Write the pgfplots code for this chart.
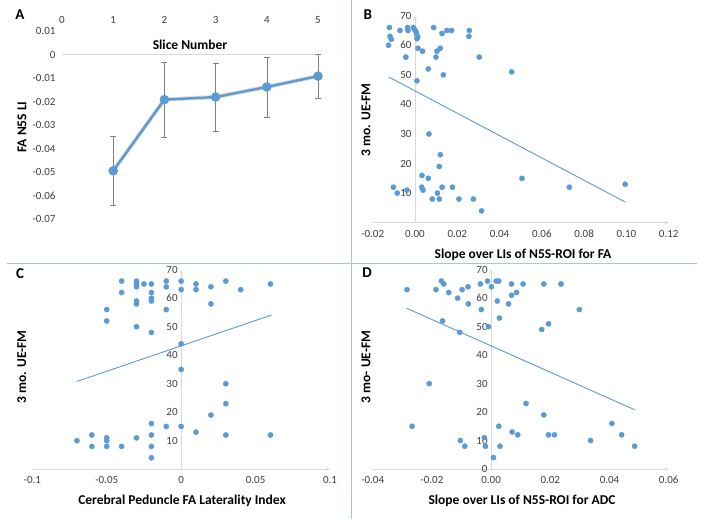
\documentclass[border=0pt]{standalone}
\usepackage{pgfplots}
\pgfplotsset{compat=1.18}
\usepackage{fontspec}
\setmainfont{Carlito}
\definecolor{ser}{HTML}{5B9BD5}
\definecolor{axg}{HTML}{D9D9D9}
\definecolor{sepc}{HTML}{A3C7E8}
\definecolor{tk}{HTML}{404040}
\definecolor{glow}{HTML}{E2DAD2}
\pgfplotsset{
  common/.style={scale only axis, anchor=south west, clip=false,
    /pgf/number format/assume math mode=true,
    tick label style={font=\fontsize{11}{13}\selectfont, text=tk},
    major tick length=0pt,
    axis line style={axg, line width=0.8pt, -},
    hide obscured x ticks=false, hide obscured y ticks=false,
    scaled x ticks=false, scaled y ticks=false,
  },
  scatpanel/.style={common, axis x line=bottom, axis y line=middle,
    ymin=0, ymax=70,
    xticklabel style={yshift=-4pt},
  },
  scat/.style={only marks, mark=*, mark size=2.6pt, color=ser, mark options={draw=ser, fill=ser}},
  trend/.style={no marks, color=ser, line width=0.9pt},
}
\newcommand{\lbl}{\fontsize{13.5}{15}\selectfont\bfseries}
\begin{document}
\begin{tikzpicture}[x=1pt,y=1pt]
\fill[white] (0,0) rectangle (704,528);
% separators
\draw[sepc, line width=1.4pt] (351.5,528) -- (351.5,9);
\draw[sepc, line width=1.4pt] (7,264.7) -- (697,264.7);

% ---------------- Panel A
\begin{axis}[common, at={(62pt,285.5pt)}, width=256pt, height=211.5pt,
  xmin=0, xmax=5, ymin=-0.08, ymax=0.01,
  axis line style={draw=none},
  xtick={0,1,2,3,4,5}, xticklabel pos=upper,
  xticklabel style={yshift=4pt},
  ytick={-0.07,-0.06,-0.05,-0.04,-0.03,-0.02,-0.01,0,0.01},
  yticklabel style={/pgf/number format/fixed, xshift=-3pt},
]
\draw[axg, line width=0.8pt] (axis cs:0,0) -- (axis cs:5,0);
\addplot[draw=none, mark=none, forget plot,
  error bars/.cd, y dir=both, y explicit,
  error bar style={color=gray, line width=0.6pt},
  error mark options={gray, mark size=3pt, line width=0.6pt, rotate=90}]
  coordinates {(1,-0.0495) +- (0,0.0146) (2,-0.0192) +- (0,0.0160) (3,-0.0181) +- (0,0.0145) (4,-0.0138) +- (0,0.0128) (5,-0.0092) +- (0,0.0095)};
\addplot[glow, line width=4.2pt, no marks, forget plot]
  coordinates {(1,-0.0495) (2,-0.0192) (3,-0.0181) (4,-0.0138) (5,-0.0092)};
\addplot[ser, line width=2.4pt, mark=*, mark size=3.5pt, mark options={fill=ser, draw=ser}]
  coordinates {(1,-0.0495) (2,-0.0192) (3,-0.0181) (4,-0.0138) (5,-0.0092)};
\end{axis}
\node[font=\lbl] at (190,483) {Slice Number};
\node[font=\lbl, rotate=90] at (22,401) {FA N5S LI};
\node[font=\fontsize{15}{17}\selectfont\bfseries] at (20,513) {A};

% ---------------- Panel B
\begin{axis}[scatpanel, at={(372.7pt,305.3pt)}, width=296pt, height=207pt,
  xmin=-0.02, xmax=0.12,
  xtick={-0.02,0,0.02,0.04,0.06,0.08,0.10,0.12},
  xticklabel style={/pgf/number format/.cd, fixed, fixed zerofill, precision=2},
  ytick={10,20,30,40,50,60,70},
]
\addplot[scat] coordinates {
(-0.0121,66) (-0.0118,63) (-0.0112,62) (-0.0125,60) (-0.0071,65) (-0.0035,66) (-0.0033,65)
(-0.0008,66) (-0.0002,65.3) (0.0005,64.5) (0.0009,63.5) (0.0013,62.8) (0.0009,62.2) (0.0014,59)
(0.0036,58) (-0.0043,56) (0.0088,66) (0.0128,64) (0.0151,65) (0.0173,65) (0.0257,65) (0.0255,63)
(0.0120,59) (0.0104,58) (0.0099,56) (0.0304,56) (0.0063,52) (0.0134,50) (0.0009,48) (0.0457,51)
(0.0066,30) (0.0120,23) (0.0115,19) (0.0033,16) (0.0063,15) (0.0032,12) (0.0038,11) (0.0128,12)
(0.0177,12) (-0.0102,12) (-0.0084,10) (-0.0038,11) (0.0106,10) (0.0082,8) (0.0115,8) (0.0208,8)
(0.0276,8) (0.0315,4) (0.0506,15) (0.0730,12) (0.0994,13)};
\addplot[trend] coordinates {(-0.0125,49.3) (0.0994,7.0)};
\end{axis}
\node[font=\lbl] at (523,273) {Slope over LIs of N5S-ROI for FA};
\node[font=\lbl, rotate=90] at (366,408) {3 mo. UE-FM};
\node[font=\fontsize{15}{17}\selectfont\bfseries] at (367.7,513) {B};

% ---------------- Panel C
\begin{axis}[scatpanel, at={(32.3pt,58.8pt)}, width=297.7pt, height=199.5pt,
  xmin=-0.1, xmax=0.1,
  xtick={-0.1,-0.05,0,0.05,0.1},
  xticklabel style={/pgf/number format/.cd, fixed, precision=2},
  ytick={10,20,30,40,50,60,70},
]
\addplot[scat] coordinates {
(-0.04,66) (-0.04,62) (-0.03,66) (-0.03,65.3) (-0.03,64.6) (-0.03,64) (-0.025,65) (-0.02,65)
(-0.02,62) (-0.02,60) (-0.02,59) (-0.03,59) (-0.03,58) (-0.01,66) (-0.01,64) (-0.01,56)
(0,66) (0,63) (0.01,65) (0.01,63) (0.02,64) (0.02,58) (0.03,66) (0.04,63) (0.06,65)
(-0.05,56) (-0.05,52) (-0.03,50) (-0.02,48) (0,44) (0,35) (0.03,30) (0.03,23) (0.02,19)
(-0.02,16) (-0.01,15) (0,15) (0.01,13) (0.03,12) (0.06,12) (-0.02,12) (-0.06,12) (-0.05,11)
(-0.05,10) (-0.03,11) (-0.07,10) (-0.06,8) (-0.05,8) (-0.04,8) (-0.02,8) (-0.02,4)};
\addplot[trend] coordinates {(-0.07,30.8) (0.0607,54.1)};
\end{axis}
\node[font=\lbl] at (182,27.3) {Cerebral Peduncle FA Laterality Index};
\node[font=\lbl, rotate=90] at (21.7,161) {3 mo. UE-FM};
\node[font=\fontsize{15}{17}\selectfont\bfseries] at (20,254) {C};

% ---------------- Panel D
\begin{axis}[scatpanel, at={(372.7pt,59pt)}, width=296pt, height=199.3pt,
  xmin=-0.04, xmax=0.06,
  xtick={-0.04,-0.02,0,0.02,0.04,0.06},
  xticklabel style={/pgf/number format/.cd, fixed, fixed zerofill, precision=2},
  ytick={0,10,20,30,40,50,60,70},
]
\addplot[scat] coordinates {
(-0.0284,63) (-0.0186,63) (-0.0168,66) (-0.0160,65) (-0.0143,62) (-0.0113,60) (-0.0098,63)
(-0.0078,64) (-0.0077,58) (-0.0036,65) (-0.0033,56) (-0.0012,66) (0.0001,64) (0.0017,66)
(0.0026,66) (0.0021,59) (0.0028,53) (-0.0009,50) (0.0069,65) (0.0069,61) (0.0086,62)
(0.0059,58) (0.0108,65) (0.0178,65) (0.0236,65) (0.0298,56) (0.0171,49) (0.0194,51)
(-0.0164,52) (-0.0106,48) (-0.0209,30) (-0.0267,15) (0.0118,23) (0.0178,19) (0.0408,16)
(0.0026,15) (0.0071,13) (0.0090,12) (0.0194,12) (0.0214,12) (0.0441,12) (0.0336,10)
(0.0485,8) (-0.0104,10) (-0.0089,8) (-0.0023,11) (-0.0019,8) (0.0030,8) (0.0008,4)};
\addplot[trend] coordinates {(-0.0284,56.4) (0.0485,20.8)};
\end{axis}
\node[font=\lbl] at (522,27) {Slope over LIs of N5S-ROI for ADC};
\node[font=\lbl, rotate=90] at (366,161) {3 mo- UE-FM};
\node[font=\fontsize{15}{17}\selectfont\bfseries] at (367,255) {D};

\pgfresetboundingbox
\path[use as bounding box] (0,0) rectangle (704,528);
\end{tikzpicture}
\end{document}
